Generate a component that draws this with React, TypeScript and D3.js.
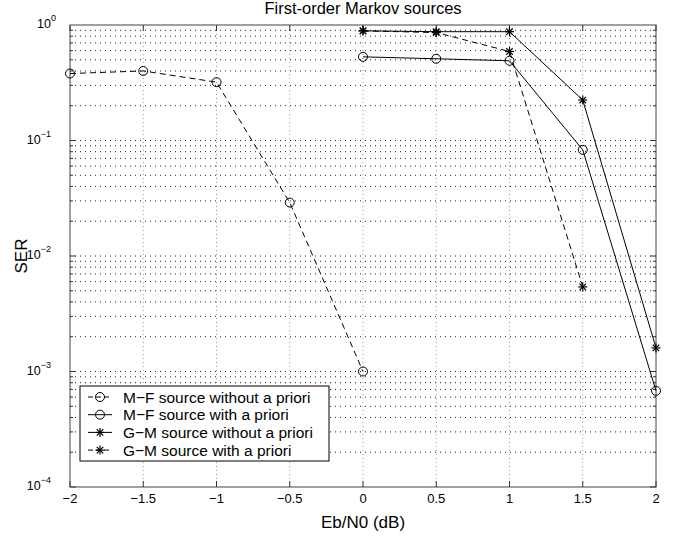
import React from "react";
import * as d3 from "d3";

const width = 682;
const height = 538;
const margin = {left: 70, right: 26, top: 25, bottom: 51};

// Eb/N0 positions
const xLeft = [-2, -1.5, -1, -0.5, 0];
const xRight = [0, 0.5, 1, 1.5, 2];
const xGmWith = [0, 0.5, 1, 1.5];

// SER values
const mfWithout = [0.38, 0.40, 0.32, 0.029, 0.001];
const mfWith = [0.53, 0.51, 0.49, 0.083, 0.00068];
const gmWithout = [0.89, 0.875, 0.875, 0.224, 0.0016];
const gmWith = [0.89, 0.86, 0.59, 0.0054];

const xTicks = [-2, -1.5, -1, -0.5, 0, 0.5, 1, 1.5, 2];
const yDecades = [-4, -3, -2, -1, 0];

const legendLabels = [
    "M\u2212F source without a priori",
    "M\u2212F source with a priori",
    "G\u2212M source without a priori",
    "G\u2212M source with a priori",
];

const font = "'Liberation Sans', Arial, Helvetica, sans-serif";

const series = [
    {xs: xLeft, ys: mfWithout, dash: "6,4", marker: "o"},
    {xs: xRight, ys: mfWith, dash: null, marker: "o"},
    {xs: xRight, ys: gmWithout, dash: null, marker: "*"},
    {xs: xGmWith, ys: gmWith, dash: "6,4", marker: "*"},
];

function fmt(v: number) {
    return String(v).replace("-", "\u2212");
}

function Marker({kind, x, y}: {kind: string, x: number, y: number}) {
    if (kind === "o") {
        return <circle cx={x} cy={y} r={4.5} fill="none" stroke="#000" strokeWidth={1}/>;
    }
    const r = 4.5;
    const d = r * 0.72;
    return (
        <g stroke="#000" strokeWidth={1.2}>
            <line x1={x - r} y1={y} x2={x + r} y2={y}/>
            <line x1={x} y1={y - r} x2={x} y2={y + r}/>
            <line x1={x - d} y1={y - d} x2={x + d} y2={y + d}/>
            <line x1={x - d} y1={y + d} x2={x + d} y2={y - d}/>
        </g>
    );
}

function App() {
    const x = d3.scaleLinear().domain([-2, 2]).range([margin.left, width - margin.right]);
    const y = d3.scaleLog().domain([1e-4, 1]).range([height - margin.bottom, margin.top]);

    const x0 = x.range()[0], x1 = x.range()[1];
    const y0 = y.range()[0], y1 = y.range()[1];

    const minor: number[] = [];
    yDecades.slice(0, -1).forEach(dd => {
        for (let m = 1; m <= 9; m++) minor.push(m * Math.pow(10, dd));
    });

    const line = d3.line<[number, number]>().x(d => x(d[0])).y(d => y(d[1]));

    const legX = 80, legY = 386, legW = 249, legH = 75;

    return (
        <svg width={width} height={height} style={{position: "absolute", left: 0, top: 0}}
             fontFamily={font}>
            <rect x={0} y={0} width={width} height={height} fill="#fff"/>
            {/* grid */}
            {minor.filter(v => v > 1e-4).map((v, i) => (
                <line key={"h" + i} x1={x0} x2={x1} y1={y(v)} y2={y(v)}
                      stroke="#222" strokeWidth={1} strokeDasharray="1,4"/>
            ))}
            {xTicks.slice(1, -1).map(t => (
                <line key={"v" + t} x1={x(t)} x2={x(t)} y1={y0} y2={y1}
                      stroke="#999" strokeWidth={1} strokeDasharray="1,3"/>
            ))}
            {/* ticks */}
            {xTicks.map(t => (
                <g key={"xt" + t} stroke="#333">
                    <line x1={x(t)} x2={x(t)} y1={y0} y2={y0 - 6}/>
                    <line x1={x(t)} x2={x(t)} y1={y1} y2={y1 + 6}/>
                </g>
            ))}
            {minor.map((v, i) => {
                const len = Math.abs(Math.log10(v) - Math.round(Math.log10(v))) < 1e-9 ? 6 : 3;
                return (
                    <g key={"yt" + i} stroke="#333">
                        <line x1={x0} x2={x0 + len} y1={y(v)} y2={y(v)}/>
                        <line x1={x1} x2={x1 - len} y1={y(v)} y2={y(v)}/>
                    </g>
                );
            })}
            <rect x={x0} y={y1} width={x1 - x0} height={y0 - y1} fill="none" stroke="#444" strokeWidth={1}/>
            {/* tick labels */}
            {xTicks.map(t => (
                <text key={"xl" + t} x={x(t)} y={y0 + 16} fontSize={13} textAnchor="middle">{fmt(t)}</text>
            ))}
            {yDecades.map(dd => (
                <text key={"yl" + dd} x={dd === 0 ? 56 : 51} y={y(Math.pow(10, dd)) + 3} fontSize={12.5} textAnchor="end">
                    10<tspan fontSize={9} dy={-7}>{fmt(dd)}</tspan>
                </text>
            ))}
            {/* series */}
            {series.map((s, i) => {
                const pts = s.xs.map((v, j) => [v, s.ys[j]] as [number, number]);
                return (
                    <g key={"s" + i}>
                        <path d={line(pts) || ""} fill="none" stroke="#000" strokeWidth={1}
                              strokeDasharray={s.dash || undefined}/>
                        {pts.map((p, j) => <Marker key={j} kind={s.marker} x={x(p[0])} y={y(p[1])}/>)}
                    </g>
                );
            })}
            {/* legend */}
            <rect x={legX} y={legY} width={legW} height={legH} fill="#fff" stroke="#000" strokeWidth={1}/>
            {series.map((s, i) => {
                const ly = legY + 11 + i * 17.7;
                return (
                    <g key={"lg" + i}>
                        <line x1={legX + 8} x2={legX + 32} y1={ly} y2={ly} stroke="#000"
                              strokeDasharray={s.dash ? "5,3" : undefined}/>
                        <Marker kind={s.marker} x={legX + 20} y={ly}/>
                        <text x={legX + 43} y={ly + 5.5} fontSize={15.5}>{legendLabels[i]}</text>
                    </g>
                );
            })}
            {/* titles */}
            <text x={(x0 + x1) / 2} y={14} fontSize={16.5} textAnchor="middle">First-order Markov sources</text>
            <text x={(x0 + x1) / 2} y={528} fontSize={17} textAnchor="middle">Eb/N0 (dB)</text>
            <text transform={`translate(27,${(y0 + y1) / 2}) rotate(-90)`} fontSize={17} textAnchor="middle">SER</text>
        </svg>
    );
}

export default App;
